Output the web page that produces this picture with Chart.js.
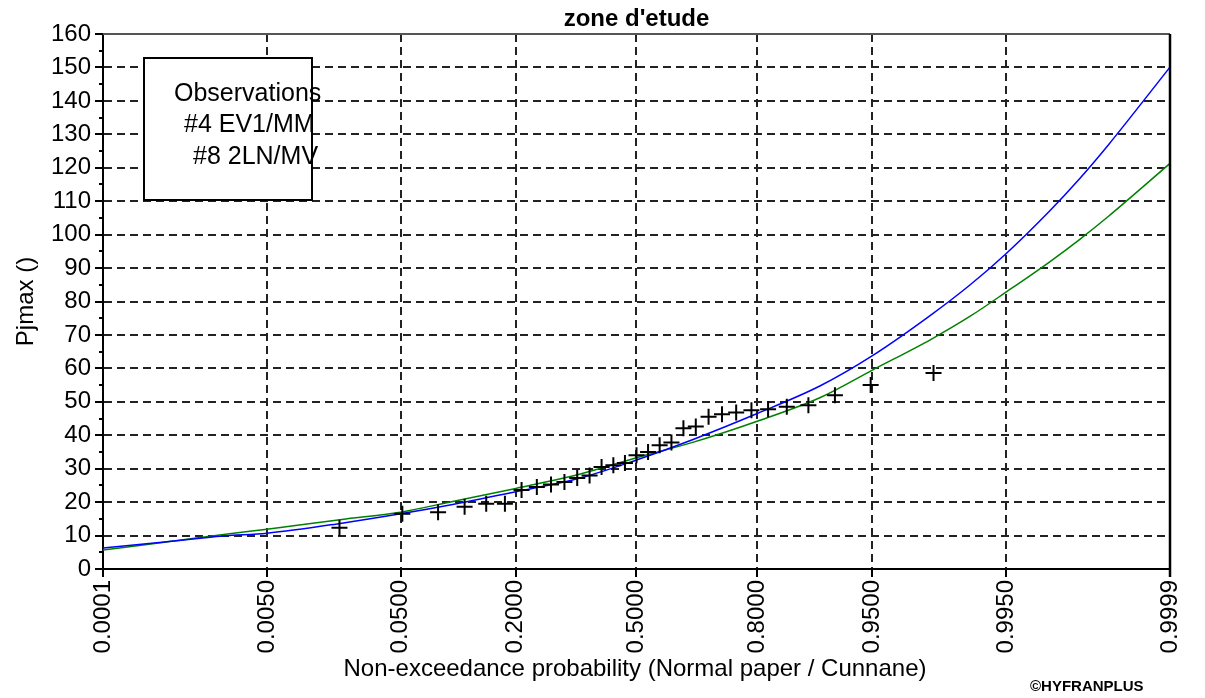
<!DOCTYPE html>
<html>
<head>
<meta charset="utf-8">
<script src="https://cdn.jsdelivr.net/npm/chart.js@4.4.1/dist/chart.umd.min.js"></script>
<style>
  html, body { margin: 0; padding: 0; background: #fff; }
  #wrap { width: 1205px; height: 698px; }
</style>
</head>
<body>
<div id="wrap"><canvas id="freqChart" width="1205" height="698"></canvas></div>
<script>
// probability ticks on the normal-paper axis
const probTicks = [0.0001, 0.005, 0.05, 0.2, 0.5, 0.8, 0.95, 0.995, 0.9999];
const probTickLabels = ['0.0001', '0.0050', '0.0500', '0.2000', '0.5000', '0.8000', '0.9500', '0.9950', '0.9999'];

// observed Pjmax (Cunnane plotting positions)
const obsProb = [0.0192, 0.0513, 0.0833, 0.1154, 0.1474, 0.1795, 0.2115, 0.2436, 0.2756, 0.3077,
  0.3397, 0.3718, 0.4038, 0.4359, 0.4679, 0.5000, 0.5321, 0.5641, 0.5962, 0.6282,
  0.6603, 0.6923, 0.7244, 0.7564, 0.7885, 0.8205, 0.8526, 0.8846, 0.9167, 0.9487, 0.9808];
const obsValue = [12.3, 16.5, 17.0, 18.6, 19.5, 19.5, 23.6, 24.5, 25.3, 26.0,
  27.2, 28.0, 30.5, 31.0, 31.7, 34.0, 35.0, 37.0, 37.8, 42.1,
  42.6, 45.5, 46.3, 46.8, 47.5, 47.8, 48.5, 49.0, 52.0, 55.0, 58.6];

// fitted quantile curves
const curveProb = [0.0001, 0.0005, 0.002, 0.005, 0.02, 0.05, 0.1, 0.2, 0.35, 0.5, 0.65,
  0.8, 0.9, 0.95, 0.98, 0.99, 0.995, 0.998, 0.999, 0.9995, 0.9999];
const ev1Value = [6.3, 8.1, 9.9, 10.7, 13.7, 16.5, 19.3, 23.1, 27.3, 32.6, 38.6,
  46.5, 54.8, 63.8, 76.0, 85.0, 94.3, 107.0, 116.8, 126.9, 150.1];
const ln2Value = [5.7, 8.0, 10.3, 11.9, 14.8, 17.0, 20.2, 24.1, 28.5, 33.3, 37.8,
  44.2, 51.3, 59.5, 68.7, 75.6, 82.8, 91.8, 98.6, 105.5, 121.3];

const legendLines = ['Observations', '#4 EV1/MM', '#8 2LN/MV'];

// inverse standard normal CDF (Acklam)
function probit(p) {
  const a = [-3.969683028665376e+01, 2.209460984245205e+02, -2.759285104469687e+02, 1.383577518672690e+02, -3.066479806614716e+01, 2.506628277459239e+00];
  const b = [-5.447609879822406e+01, 1.615858368580409e+02, -1.556989798598866e+02, 6.680131188771972e+01, -1.328068155288572e+01];
  const c = [-7.784894002430293e-03, -3.223964580411365e-01, -2.400758277161838e+00, -2.549732539343734e+00, 4.374664141464968e+00, 2.938163982698783e+00];
  const d = [7.784695709041462e-03, 3.224671290700398e-01, 2.445134137142996e+00, 3.754408661907416e+00];
  const pl = 0.02425;
  let q, r;
  if (p < pl) {
    q = Math.sqrt(-2 * Math.log(p));
    return (((((c[0]*q+c[1])*q+c[2])*q+c[3])*q+c[4])*q+c[5]) / ((((d[0]*q+d[1])*q+d[2])*q+d[3])*q+1);
  }
  if (p > 1 - pl) {
    q = Math.sqrt(-2 * Math.log(1 - p));
    return -(((((c[0]*q+c[1])*q+c[2])*q+c[3])*q+c[4])*q+c[5]) / ((((d[0]*q+d[1])*q+d[2])*q+d[3])*q+1);
  }
  q = p - 0.5;
  r = q * q;
  return (((((a[0]*r+a[1])*r+a[2])*r+a[3])*r+a[4])*r+a[5])*q / (((((b[0]*r+b[1])*r+b[2])*r+b[3])*r+b[4])*r+1);
}

const toPoints = (probs, vals) => probs.map((p, i) => ({ x: probit(p), y: vals[i] }));

const FONT = "'Liberation Sans', Arial, sans-serif";
Chart.defaults.font.family = FONT;
Chart.defaults.color = '#000';

// texts, legend box and frame drawn around the plot
const decorations = {
  id: 'decorations',
  afterDraw(chart) {
    const ctx = chart.ctx;
    const area = chart.chartArea;
    const y = chart.scales.y;
    ctx.save();

    // top and right frame
    ctx.lineWidth = 2;
    ctx.strokeStyle = '#555';
    ctx.beginPath();
    ctx.moveTo(area.left, area.top);
    ctx.lineTo(area.right, area.top);
    ctx.stroke();
    ctx.strokeStyle = '#000';
    ctx.lineWidth = 2.5;
    ctx.beginPath();
    ctx.moveTo(area.right, area.top);
    ctx.lineTo(area.right, area.bottom + 8);
    ctx.stroke();

    // minor ticks every 5
    ctx.lineWidth = 2;
    for (let v = 5; v < 160; v += 10) {
      const py = Math.round(y.getPixelForValue(v));
      ctx.beginPath();
      ctx.moveTo(area.left - 4, py);
      ctx.lineTo(area.left, py);
      ctx.stroke();
    }

    // legend box
    ctx.fillStyle = '#fff';
    ctx.fillRect(144, 58, 168, 142);
    ctx.lineWidth = 2;
    ctx.strokeStyle = '#000';
    ctx.strokeRect(144, 58, 168, 142);
    ctx.fillStyle = '#000';
    ctx.font = '25px ' + FONT;
    ctx.textAlign = 'left';
    ctx.textBaseline = 'middle';
    ctx.fillText(legendLines[0], 174, 94);
    ctx.fillText(legendLines[1], 184, 125);
    ctx.fillText(legendLines[2], 193, 157);

    // title
    ctx.textAlign = 'center';
    ctx.font = 'bold 24px ' + FONT;
    ctx.fillText("zone d'etude", (area.left + area.right) / 2, 19);

    // axis titles
    ctx.font = '24px ' + FONT;
    ctx.fillText('Non-exceedance probability (Normal paper / Cunnane)', 635, 669);
    ctx.save();
    ctx.translate(26, (area.top + area.bottom) / 2);
    ctx.rotate(-Math.PI / 2);
    ctx.fillText('Pjmax ()', 0, 0);
    ctx.restore();

    ctx.textAlign = 'left';
    ctx.font = 'bold 15px ' + FONT;
    ctx.fillText('\u00A9HYFRANPLUS', 1030, 687);
    ctx.restore();
  }
};

const zMin = probit(probTicks[0]);
const zMax = probit(probTicks[probTicks.length - 1]);

new Chart(document.getElementById('freqChart').getContext('2d'), {
  type: 'scatter',
  data: {
    datasets: [{
      label: 'Observations',
      data: toPoints(obsProb, obsValue),
      pointStyle: 'cross',
      pointRadius: 8,
      pointBorderWidth: 2,
      borderColor: '#000',
      order: 0
    }, {
      label: '#4 EV1/MM',
      data: toPoints(curveProb, ev1Value),
      showLine: true,
      borderColor: '#0000ff',
      borderWidth: 1.5,
      pointRadius: 0,
      cubicInterpolationMode: 'monotone',
      order: 1
    }, {
      label: '#8 2LN/MV',
      data: toPoints(curveProb, ln2Value),
      showLine: true,
      borderColor: '#008000',
      borderWidth: 1.5,
      pointRadius: 0,
      cubicInterpolationMode: 'monotone',
      order: 2
    }]
  },
  options: {
    responsive: false,
    animation: false,
    layout: { padding: { top: 34, right: 35, left: 0, bottom: 0 } },
    plugins: {
      legend: { display: false },
      tooltip: { enabled: false }
    },
    scales: {
      x: {
        type: 'linear',
        min: zMin,
        max: zMax,
        afterBuildTicks: (scale) => {
          scale.ticks = probTicks.map(p => ({ value: probit(p) }));
        },
        afterFit: (scale) => { scale.height = 129; },
        ticks: {
          autoSkip: false,
          minRotation: 90,
          maxRotation: 90,
          padding: 3,
          font: { size: 24 },
          callback: (v, i) => probTickLabels[i]
        },
        grid: {
          lineWidth: 2,
          tickLength: 8,
          tickColor: '#000',
          tickWidth: 2,
          color: (ctx) => (ctx.index === 0 || ctx.index === probTicks.length - 1) ? 'rgba(0,0,0,0)' : '#222'
        },
        border: { display: true, color: '#000', width: 2, dash: [8, 5] }
      },
      y: {
        min: 0,
        max: 160,
        afterFit: (scale) => { scale.width = 103; },
        ticks: { stepSize: 10, padding: 4, font: { size: 24 } },
        grid: {
          lineWidth: 2,
          tickLength: 8,
          tickColor: '#000',
          tickWidth: 2,
          color: (ctx) => (ctx.tick && (ctx.tick.value === 0 || ctx.tick.value === 160)) ? 'rgba(0,0,0,0)' : '#222'
        },
        border: { display: true, color: '#000', width: 2, dash: [8, 5] }
      }
    }
  },
  plugins: [decorations]
});
</script>
</body>
</html>
